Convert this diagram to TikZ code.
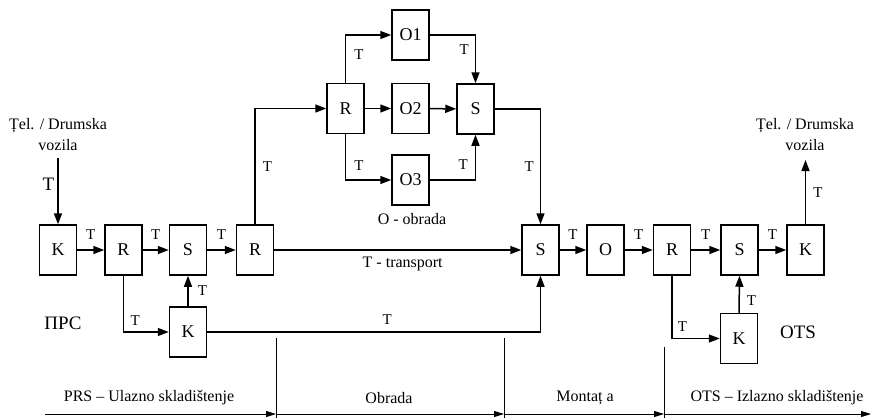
\documentclass[tikz,border=0pt]{standalone}
\usepackage{fontspec}
\setmainfont{Liberation Serif}
\usetikzlibrary{arrows.meta}
\begin{document}
\begin{tikzpicture}[x=1pt,y=-1pt,
  box/.style={draw,line width=1.5pt,minimum width=37pt,minimum height=50pt,inner sep=0pt,
    font=\fontsize{18}{21}\selectfont},
  flow/.style={line width=1.5pt,-{Triangle[length=11pt,width=8pt]}},
  tl/.style={font=\fontsize{15}{17}\selectfont,inner sep=0pt},
  lbl/.style={font=\fontsize{16}{19}\selectfont,inner sep=0pt},
  big/.style={font=\fontsize{19}{22}\selectfont,inner sep=0pt},
  axis/.style={line width=0.9pt,-{Triangle[length=10pt,width=6pt]}},
  sep/.style={line width=0.9pt}]
\useasboundingbox (0,0) rectangle (872,418);

% main row
\node[box] (K1) at (58,250) {K};
\node[box] (R1) at (123.5,250) {R};
\node[box] (S1) at (188,250) {S};
\node[box] (R2) at (255,250) {R};
\node[box] (S3) at (540.5,250) {S};
\node[box] (O)  at (605.5,250) {O};
\node[box] (R3) at (672,250) {R};
\node[box] (S4) at (739.5,250) {S};
\node[box] (K3) at (805.5,250) {K};
% lower boxes
\node[box] (K2) at (188,332) {K};
\node[box] (K4) at (739,338.5) {K};
% processing branch
\node[box] (Ru) at (345.5,108.5) {R};
\node[box] (O1) at (410.5,35) {O1};
\node[box] (O2) at (410.5,108.5) {O2};
\node[box] (O3) at (410.5,180) {O3};
\node[box] (S2) at (475.5,109) {S};

% vehicle ends
\node[lbl] (inA) at (58,126) {Țel. / Drumska};
\node[lbl] (inB) at (58,145) {vozila};
\coordinate (inC) at (58,158);
\node[lbl] (outA) at (805,126) {Țel. / Drumska};
\node[lbl] (outB) at (805,145) {vozila};
\coordinate (outC) at (805.5,160);

% area labels
\node[big] (prc) at (63,323) {ПРС};
\node[big] (ots) at (798,332) {OTS};
\node[lbl] (obr) at (412,219) {O - obrada};

% flows of the main row
\draw[flow] (inC) -- node[big,pos=0.4,left=3pt] {T} (K1.north);
\draw[flow] (K1) -- node[tl,above=10pt] {T} (R1);
\draw[flow] (R1) -- node[tl,above=10pt] {T} (S1);
\draw[flow] (S1) -- node[tl,above=10pt] {T} (R2);
\draw[flow] (R2) -- node[lbl,pos=0.52,below=6pt] {T - transport} (S3);
\draw[flow] (S3) -- node[tl,above=10pt] {T} (O);
\draw[flow] (O) -- node[tl,above=10pt] {T} (R3);
\draw[flow] (R3) -- node[tl,above=10pt] {T} (S4);
\draw[flow] (S4) -- node[tl,above=10pt] {T} (K3);
\draw[flow] (K3.north) -- node[tl,pos=0.5,right=7pt] {T} (outC);

% input storage loop
\draw[flow] (R1.south) |- node[tl,pos=0.63,above=6pt] {T} (K2.west);
\draw[flow] (K2.north) -- node[tl,right=9pt] {T} (S1.south);
\draw[flow] (K2.east) -| node[tl,pos=0.27,above=7pt] {T} (S3.south);

% processing branch
\draw[flow] (R2.north) |- node[tl,pos=0.25,right=7pt] {T} (Ru.west);
\draw[flow] (Ru.north) |- node[tl,pos=0.3,right=8pt] {T} (O1.west);
\draw[flow] (Ru) -- (O2);
\draw[flow] (Ru.south) |- node[tl,pos=0.34,right=8pt] {T} (O3.west);
\draw[flow] (O1.east) -| node[tl,pos=0.65,left=6pt] {T} (S2.north);
\draw[flow] (O2) -- (S2);
\draw[flow] (O3.east) -| node[tl,pos=0.67,left=7pt] {T} (S2.south);
\draw[flow] (S2.east) -| node[tl,pos=0.75,left=6pt] {T} (S3.north);

% output storage loop
\draw[flow] (R3.south) |- node[tl,pos=0.61,above=6pt] {T} (K4.west);
\draw[flow] (K4.north) -- node[tl,pos=0.34,right=7pt] {T} (S4.south);

% phase axis
\coordinate (t0) at (45,414);
\coordinate (t1) at (276,414);
\coordinate (t2) at (504,414);
\coordinate (t3) at (664,414);
\coordinate (t4) at (871,414);
\coordinate (d1) at (276,338);
\coordinate (e1) at (276,418);
\coordinate (d2) at (504,338);
\coordinate (e2) at (504,418);
\coordinate (d3) at (664,347);
\coordinate (e3) at (664,418);
\draw[sep] (d1) -- (e1);
\draw[sep] (d2) -- (e2);
\draw[sep] (d3) -- (e3);
\draw[axis] (t0) -- (t1);
\draw[axis] (t1) -- (t2);
\draw[axis] (t2) -- (t3);
\draw[axis] (t3) -- (t4);
\node[lbl] (p1) at (149,398) {PRS – Ulazno skladištenje};
\node[lbl] (p2) at (389,398) {Obrada};
\node[lbl] (p3) at (585,398) {Montaț a};
\node[lbl] (p4) at (777,398) {OTS – Izlazno skladištenje};
\end{tikzpicture}
\end{document}
